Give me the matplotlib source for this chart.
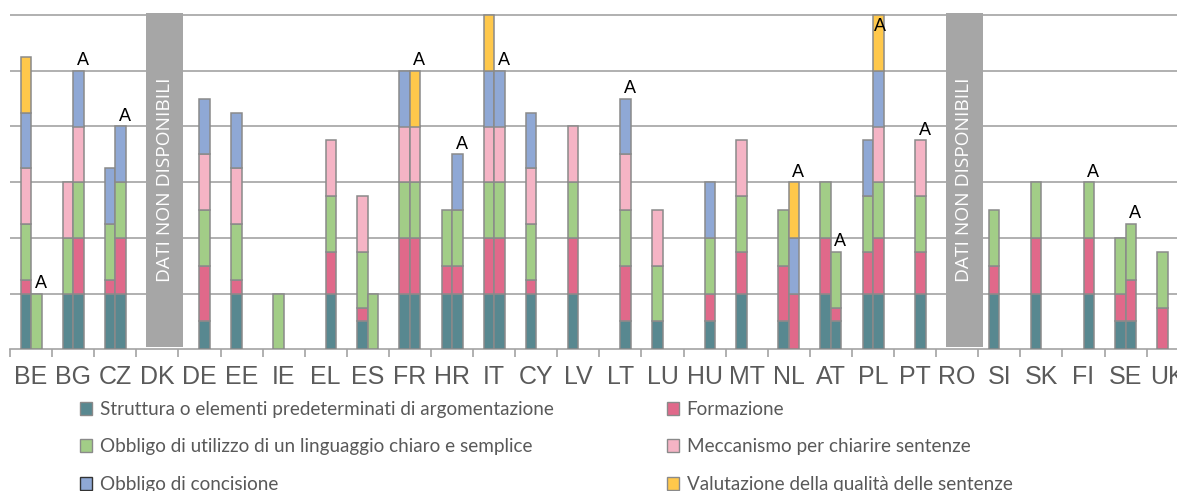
import matplotlib
matplotlib.use("Agg")
import matplotlib.pyplot as plt
from matplotlib.patches import Patch, Rectangle
import numpy as np

countries = ["BE", "BG", "CZ", "DK", "DE", "EE", "IE", "EL", "ES", "FR", "HR", "IT", "CY", "LV",
             "LT", "LU", "HU", "MT", "NL", "AT", "PL", "PT", "RO", "SI", "SK", "FI", "SE", "UK"]

series_names = [
    "Struttura o elementi predeterminati di argomentazione",
    "Formazione",
    "Obbligo di utilizzo di un linguaggio chiaro e semplice",
    "Meccanismo per chiarire sentenze",
    "Obbligo di concisione",
    "Valutazione della qualità delle sentenze",
]
colors = ["#588890", "#E0698A", "#A2CD87", "#F5B4C5", "#8FA8D5", "#FFC84B"]

# First (left) bar of each country
left_struttura  = [1, 1, 1, 0, 0, 1, 0, 0, 0.5, 1, 1, 1, 1, 1, 0, 0.5, 0, 1, 0.5, 1, 1, 0, 0, 1, 1, 0, 0.5, 0]
left_formazione = [0.25, 0, 0.25, 0, 0, 0.25, 0, 0, 0.25, 1, 0.5, 1, 0.25, 1, 0, 0, 0, 0.75, 1, 1, 0.75, 0, 0, 0.5, 1, 0, 0.5, 0.75]
left_linguaggio = [1, 1, 1, 0, 0, 1, 1, 0, 1, 1, 1, 1, 1, 1, 0, 1, 0, 1, 1, 1, 1, 0, 0, 1, 1, 0, 1, 1]
left_meccanismo = [1, 1, 0, 0, 0, 1, 0, 0, 1, 1, 0, 1, 1, 1, 0, 1, 0, 1, 0, 0, 0, 0, 0, 0, 0, 0, 0, 0]
left_concisione = [1, 0, 1, 0, 0, 1, 0, 0, 0, 1, 0, 1, 1, 0, 0, 0, 0, 0, 0, 0, 1, 0, 0, 0, 0, 0, 0, 0]
left_valutazione = [1, 0, 0, 0, 0, 0, 0, 0, 0, 0, 0, 1, 0, 0, 0, 0, 0, 0, 0, 0, 0, 0, 0, 0, 0, 0, 0, 0]

# Second (right) bar of each country
right_struttura  = [0, 1, 1, 0, 0.5, 0, 0, 1, 0, 1, 1, 1, 0, 0, 0.5, 0, 0.5, 0, 0, 0.5, 1, 1, 0, 0, 0, 1, 0.5, 0]
right_formazione = [0, 1, 1, 0, 1, 0, 0, 0.75, 0, 1, 0.5, 1, 0, 0, 1, 0, 0.5, 0, 1, 0.25, 1, 0.75, 0, 0, 0, 1, 0.75, 0]
right_linguaggio = [1, 1, 1, 0, 1, 0, 0, 1, 1, 1, 1, 1, 0, 0, 1, 0, 1, 0, 0, 1, 1, 1, 0, 0, 0, 1, 1, 0]
right_meccanismo = [0, 1, 0, 0, 1, 0, 0, 1, 0, 1, 0, 1, 0, 0, 1, 0, 0, 0, 0, 0, 1, 1, 0, 0, 0, 0, 0, 0]
right_concisione = [0, 1, 1, 0, 1, 0, 0, 0, 0, 0, 1, 1, 0, 0, 1, 0, 1, 0, 1, 0, 1, 0, 0, 0, 0, 0, 0, 0]
right_valutazione = [0, 0, 0, 0, 0, 0, 0, 0, 0, 1, 0, 0, 0, 0, 0, 0, 0, 0, 1, 0, 1, 0, 0, 0, 0, 0, 0, 0]

# "A" marker above the right bar
a_label = ["BE", "BG", "CZ", "FR", "HR", "IT", "LT", "NL", "AT", "PL", "PT", "FI", "SE"]
# Countries without data
not_available = ["DK", "RO"]
na_text = "DATI NON DISPONIBILI"

left_data = [left_struttura, left_formazione, left_linguaggio, left_meccanismo, left_concisione, left_valutazione]
right_data = [right_struttura, right_formazione, right_linguaggio, right_meccanismo, right_concisione, right_valutazione]

W, H, DPI = 1177, 491, 100
fig = plt.figure(figsize=(W / DPI, H / DPI), dpi=DPI)

unit_px = 55.7
bottom_px = 349.3
ymax = 6.3
left_px = 10
cat_px = 42.1
n = len(countries)
ax = fig.add_axes([left_px / W, (H - bottom_px) / H, n * cat_px / W, ymax * unit_px / H])

x = np.arange(n)
bw = 0.25
edge = "#8a8a8a"

for data, off in ((left_data, -bw / 2), (right_data, bw / 2)):
    base = np.zeros(n)
    for vals, col in zip(data, colors):
        v = np.array(vals, dtype=float)
        mask = v > 0
        ax.bar(x[mask] + off, v[mask], bw, bottom=base[mask], color=col,
               edgecolor=edge, linewidth=1.1, zorder=3)
        base += v

right_tot = np.sum(np.array(right_data, dtype=float), axis=0)
for c in a_label:
    i = countries.index(c)
    top = right_tot[i]
    if top >= 5.9:
        ax.text(i + bw / 2 + 0.05, top - 0.29, "A", ha="center", va="baseline",
                fontsize=13, family="Liberation Sans", color="black", zorder=5)
    else:
        ax.text(i + bw / 2 + 0.1, top + 0.1, "A", ha="center", va="baseline",
                fontsize=13, family="Liberation Sans", color="black", zorder=5)

for c in not_available:
    i = countries.index(c)
    ax.add_patch(Rectangle((i - 0.27, 0.05), 0.88, 5.98, facecolor="#a6a6a6",
                           edgecolor="none", zorder=4, clip_on=False))
    ax.text(i + 0.17, 3.04, na_text, rotation=90, ha="center", va="center",
            color="white", fontsize=13.8, family="Open Sans", zorder=5)

ax.set_xlim(-0.5, n - 0.5)
ax.set_ylim(0, ymax)
ax.set_yticks([1, 2, 3, 4, 5, 6])
ax.yaxis.grid(True, color="#a3a3a3", linewidth=1.2)
ax.set_axisbelow(True)
ax.tick_params(axis="y", left=False, labelleft=False)
for s in ["left", "right", "top"]:
    ax.spines[s].set_visible(False)
ax.spines["bottom"].set_color("#a3a3a3")
ax.spines["bottom"].set_linewidth(1.2)

ax.set_xticks(x)
ax.set_xticklabels(countries, fontsize=18, family="Liberation Sans", color="#5a5a5a")
ax.tick_params(axis="x", which="major", length=0, pad=11)
ax.set_xticks(np.arange(n + 1) - 0.5, minor=True)
ax.tick_params(axis="x", which="minor", length=6, color="#a3a3a3", width=1.2)

handles = [Patch(facecolor=c, edgecolor=(edge if i != 4 else "#333333"), linewidth=1.0)
           for i, c in enumerate(colors)]
leg_kw = dict(frameon=False, handlelength=0.66, handleheight=0.66,
              handletextpad=0.38, labelspacing=1.08, borderpad=0, borderaxespad=0,
              loc="upper left", prop={"family": "Lato", "size": 13.6})
l1 = fig.legend([handles[0], handles[2], handles[4]],
                [series_names[0], series_names[2], series_names[4]],
                bbox_to_anchor=(80 / W, (H - 401) / H), **leg_kw)
l2 = fig.legend([handles[1], handles[3], handles[5]],
                [series_names[1], series_names[3], series_names[5]],
                bbox_to_anchor=(667 / W, (H - 401) / H), **leg_kw)
for lg in (l1, l2):
    for t in lg.get_texts():
        t.set_color("#595959")

fig.savefig("out.png", dpi=DPI)
